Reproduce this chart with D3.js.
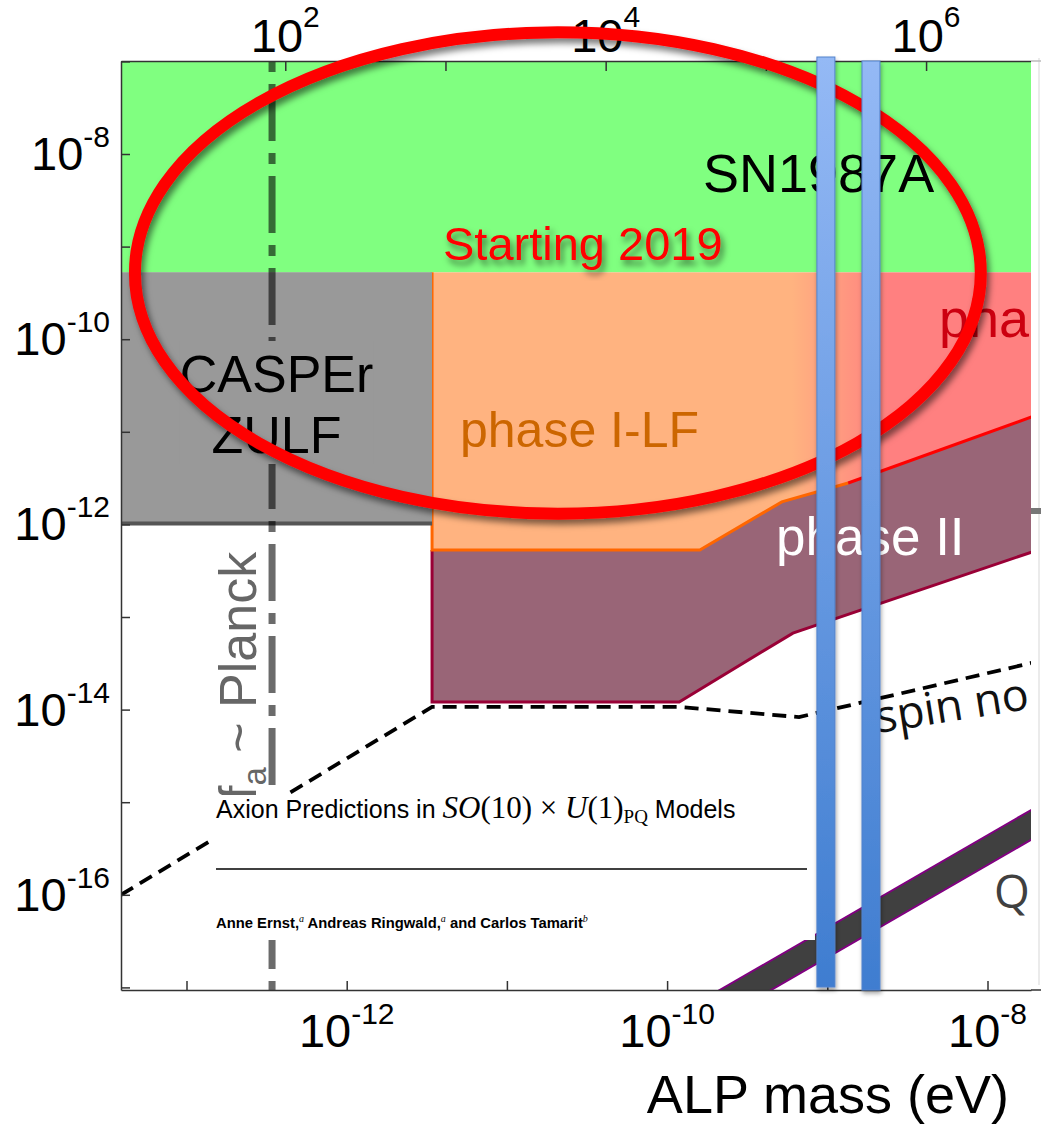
<!DOCTYPE html>
<html>
<head>
<meta charset="utf-8">
<script src="https://cdn.jsdelivr.net/npm/d3@7"></script>
<style>
  html, body { margin: 0; padding: 0; background: #fff; }
  svg { display: block; }
</style>
</head>
<body>
<svg id="chart" width="1041" height="1125"></svg>
<script>
// ---------- data ----------
// tick decades
const massTickExp = [-13, -12, -11, -10, -9, -8];
const massLabelExp = [-12, -10, -8];
const couplingTickExp = [-17, -16, -15, -14, -13, -12, -11, -10, -9, -8, -7];
const couplingLabelExp = [-16, -14, -12, -10, -8];
const freqTickExp = [2, 3, 4, 5, 6];
const freqLabelExp = [2, 4, 6];
const eVtoHz = 2.418e14;

// SN1987A exclusion (coupling above this value)
const sn1987aBound = 5.3e-10;

// CASPEr ZULF region
const zulfMassMax = 3.41e-12;
const zulfCouplingMin = 1e-12;

// phase I-LF / phase I sensitivity (lower edge)
const phaseIMass = [3.41e-12, 1.60e-10, 5.2e-10, 1.35e-9, 2.0e-8];
const phaseICoupling = [5.3e-13, 5.3e-13, 1.75e-12, 2.8e-12, 1.5e-11];

// phase II sensitivity (lower edge)
const phaseIIMass = [3.41e-12, 1.19e-10, 6.1e-10, 2.0e-8];
const phaseIICoupling = [1.21e-14, 1.21e-14, 6.7e-14, 5.2e-13];

// spin-noise limit
const spinNoiseMass = [3.9e-14, 3.41e-12, 1.19e-10, 6.66e-10, 2.0e-8];
const spinNoiseCoupling = [1.0e-16, 1.07e-14, 1.07e-14, 8.3e-15, 3.27e-14];

// QCD axion band
const qcdMass = [1e-10, 2e-8];
const qcdCouplingLow = [2.1e-18, 4.2e-16];
const qcdCouplingHigh = [4.4e-18, 8.8e-16];

// f_a ~ Planck mass
const planckMass = 3.42e-13;

// highlighted frequencies (Hz)
const markerFreqHz = [2.37e5, 4.53e5];

// highlighted region: centre (mass, coupling) and half-extent in decades
const highlightCenter = [2.08e-11, 5.2e-10];
const highlightHalfDecades = [2.64, 2.60];

// ---------- layout ----------
const L = 121, R = 1031, T = 61, B = 990;
const svg = d3.select("#chart");
const FONT = "'Liberation Sans', Arial, sans-serif";
const CAL = "'Open Sans', 'Noto Sans', sans-serif";
const MATH = "'Liberation Serif', 'Times New Roman', serif";

const x = d3.scaleLog().domain([1e-12, 1e-8]).range([346.7, 987.5]);
x.domain([x.invert(L), x.invert(R)]).range([L, R]);
const y = d3.scaleLog().domain([1e-8, 1e-16]).range([154, 894.8]);
y.domain([y.invert(T), y.invert(B)]).range([T, B]);
const xf = d3.scaleLog().domain(x.domain().map(m => m * eVtoHz)).range([L, R]);

const defs = svg.append("defs");
defs.append("clipPath").attr("id", "plotClip")
  .append("rect").attr("x", L).attr("y", T).attr("width", R - L).attr("height", B - T);

const sh = defs.append("filter").attr("id", "shadow")
  .attr("x", "-10%").attr("y", "-10%").attr("width", "130%").attr("height", "130%");
sh.append("feDropShadow").attr("dx", 3).attr("dy", 5).attr("stdDeviation", 3)
  .attr("flood-color", "#000").attr("flood-opacity", 0.5);

const shSmall = defs.append("filter").attr("id", "shadowSmall")
  .attr("x", "-50%").attr("y", "-5%").attr("width", "200%").attr("height", "110%");
shSmall.append("feDropShadow").attr("dx", 1).attr("dy", 3).attr("stdDeviation", 2)
  .attr("flood-color", "#000").attr("flood-opacity", 0.35);

// orange -> red blend between the LF and HF sensitivity bands
const bandGrad = defs.append("linearGradient").attr("id", "bandGrad")
  .attr("gradientUnits", "userSpaceOnUse")
  .attr("x1", x(6e-10)).attr("x2", x(2.4e-9)).attr("y1", 0).attr("y2", 0);
bandGrad.append("stop").attr("offset", 0).attr("stop-color", "#ffb380");
bandGrad.append("stop").attr("offset", 1).attr("stop-color", "#ff8080");

const barGrad = defs.append("linearGradient").attr("id", "barGrad")
  .attr("x1", 0).attr("x2", 0).attr("y1", 0).attr("y2", 1);
barGrad.append("stop").attr("offset", 0).attr("stop-color", "#94b9f5");
barGrad.append("stop").attr("offset", 1).attr("stop-color", "#3f7dd0");

const plot = svg.append("g").attr("clip-path", "url(#plotClip)");
const line = d3.line();
const pts = (ms, gs) => ms.map((m, i) => [x(m), y(gs[i])]);
const xMax = phaseIMass[phaseIMass.length - 1];

// phase II band
const phaseITop = pts(phaseIMass, phaseICoupling);
const phaseIIBottom = pts(phaseIIMass, phaseIICoupling);
plot.append("path")
  .attr("d", line(phaseITop.concat(phaseIIBottom.slice().reverse())) + "Z")
  .attr("fill", "#996577");
plot.append("path")
  .attr("d", line([[x(phaseIIMass[0]), y(phaseICoupling[0])]].concat(phaseIIBottom)))
  .attr("fill", "none").attr("stroke", "#990036").attr("stroke-width", 3);

// phase I-LF / phase I band
const bandPoly = [[x(zulfMassMax), y(sn1987aBound)], [x(xMax), y(sn1987aBound)]]
  .concat(phaseITop.slice().reverse());
plot.append("path").attr("d", line(bandPoly) + "Z").attr("fill", "url(#bandGrad)");
plot.append("path")
  .attr("d", line([[x(zulfMassMax), y(sn1987aBound)]].concat(phaseITop.slice(0, 4))))
  .attr("fill", "none").attr("stroke", "#ff6600").attr("stroke-width", 3);
plot.append("path")
  .attr("d", line(phaseITop.slice(3)))
  .attr("fill", "none").attr("stroke", "#ff0000").attr("stroke-width", 3);

// CASPEr ZULF region
plot.append("rect")
  .attr("x", L).attr("y", y(sn1987aBound))
  .attr("width", x(zulfMassMax) - L).attr("height", y(zulfCouplingMin) - y(sn1987aBound))
  .attr("fill", "#999999");
plot.append("line")
  .attr("x1", L).attr("x2", x(zulfMassMax))
  .attr("y1", y(zulfCouplingMin) - 1).attr("y2", y(zulfCouplingMin) - 1)
  .attr("stroke", "#555").attr("stroke-width", 4);

// SN1987A region
plot.append("rect")
  .attr("x", L).attr("y", T).attr("width", R - L).attr("height", y(sn1987aBound) - T)
  .attr("fill", "#80ff80");

// f_a ~ Planck
plot.append("line")
  .attr("x1", x(planckMass)).attr("x2", x(planckMass)).attr("y1", T).attr("y2", B)
  .attr("stroke", "#000").attr("stroke-opacity", 0.58).attr("stroke-width", 7)
  .attr("stroke-dasharray", "57 12 11 12").attr("stroke-dashoffset", 69);

// spin noise
plot.append("path")
  .attr("d", line(pts(spinNoiseMass, spinNoiseCoupling)))
  .attr("fill", "none").attr("stroke", "#000").attr("stroke-width", 3.8)
  .attr("stroke-dasharray", "14 8");

// QCD axion band
const qLow = pts(qcdMass, qcdCouplingLow), qHigh = pts(qcdMass, qcdCouplingHigh);
plot.append("path").attr("d", line(qHigh.concat(qLow.slice().reverse())) + "Z")
  .attr("fill", "#404040");
[qLow, qHigh].forEach(p => plot.append("path").attr("d", line(p))
  .attr("fill", "none").attr("stroke", "#800080").attr("stroke-width", 2));

// region labels
plot.append("text").attr("x", 703).attr("y", 192).attr("font-family", FONT)
  .attr("font-size", 54).attr("fill", "#000").text("SN1987A");

const zulfCx = (L + x(zulfMassMax)) / 2;
const zulfLabel = plot.append("g");
const zulfText = zulfLabel.append("text").attr("font-family", FONT).attr("font-size", 52)
  .attr("fill", "#000").attr("text-anchor", "middle");
zulfText.append("tspan").attr("x", zulfCx).attr("y", 392).text("CASPEr");
zulfText.append("tspan").attr("x", zulfCx).attr("y", 453).text("ZULF");
const zb = zulfText.node().getBBox();
zulfLabel.insert("rect", "text").attr("x", zb.x).attr("y", zb.y - 4)
  .attr("width", zb.width).attr("height", zb.height + 4).attr("fill", "#999999");

plot.append("text").attr("x", 460).attr("y", 447).attr("font-family", FONT)
  .attr("font-size", 50).attr("fill", "#cc6600").text("phase I-LF");
plot.append("text").attr("x", 939).attr("y", 337).attr("font-family", FONT)
  .attr("font-size", 54).attr("fill", "#cc0010").text("pha");
plot.append("text").attr("x", 776).attr("y", 555).attr("font-family", FONT)
  .attr("font-size", 53).attr("fill", "#fff").text("phase II");
plot.append("text").attr("transform", "translate(878,733) rotate(-9)")
  .attr("font-family", CAL).attr("font-size", 45).attr("fill", "#111").text("spin no");
plot.append("text").attr("x", 994).attr("y", 908).attr("font-family", CAL)
  .attr("font-size", 46).attr("fill", "#404040").text("Q");
const planckText = plot.append("text").attr("transform", "translate(256,800) rotate(-90)")
  .attr("font-family", FONT).attr("font-size", 52).attr("fill", "#666");
planckText.append("tspan").text("f");
planckText.append("tspan").attr("font-size", 33).attr("dy", 10).text("a");
planckText.append("tspan").attr("dy", -10).text(" ~ Planck");

// ---------- axes ----------
const axisStyle = g => {
  g.select(".domain").attr("stroke", "#333").attr("stroke-width", 1.5);
  g.selectAll(".tick line").attr("stroke", "#333").attr("stroke-width", 1.5);
  g.selectAll(".tick text").remove();
};
svg.append("g").attr("transform", `translate(0,${B})`)
  .call(d3.axisBottom(x).tickValues(massTickExp.map(e => 10 ** e)).tickSize(-9).tickSizeOuter(0))
  .call(axisStyle);
svg.append("g").attr("transform", `translate(${L},0)`)
  .call(d3.axisLeft(y).tickValues(couplingTickExp.map(e => 10 ** e)).tickSize(-9).tickSizeOuter(0))
  .call(axisStyle);
svg.append("g").attr("transform", `translate(0,${T})`)
  .call(d3.axisTop(xf).tickValues(freqTickExp.map(e => 10 ** e)).tickSize(-10).tickSizeOuter(0))
  .call(axisStyle);
// bottom frame line continues past the right edge
svg.append("line").attr("x1", R).attr("x2", 1041).attr("y1", B).attr("y2", B)
  .attr("stroke", "#333").attr("stroke-width", 1.5);

function powLabel(px, py, exp, anchor, raise) {
  const t = svg.append("text").attr("x", px).attr("y", py).attr("font-family", FONT)
    .attr("font-size", 47).attr("fill", "#000").attr("text-anchor", anchor);
  t.append("tspan").text("10");
  t.append("tspan").attr("font-size", 30).attr("dy", -raise).text(String(exp));
}
couplingLabelExp.forEach(e => powLabel(110, y(10 ** e) + 16, e, "end", 23));
massLabelExp.forEach(e => powLabel(x(10 ** e), 1047, e, "middle", 23));
freqLabelExp.forEach(e => powLabel(xf(10 ** e), 52, e, "middle", 25));

svg.append("text").attr("x", 1009).attr("y", 1113).attr("text-anchor", "end")
  .attr("font-family", FONT).attr("font-size", 54).attr("fill", "#000").text("ALP mass (eV)");

// right margin strip
svg.append("rect").attr("x", R).attr("y", 0).attr("width", 1041 - R).attr("height", B - 1)
  .attr("fill", "#fff");
svg.append("line").attr("x1", 1039).attr("x2", 1039).attr("y1", 58).attr("y2", 985)
  .attr("stroke", "#e4e4e4").attr("stroke-width", 1.5);
svg.append("line").attr("x1", R).attr("x2", 1041).attr("y1", T).attr("y2", T)
  .attr("stroke", "#bbb").attr("stroke-width", 1.5);
svg.append("rect").attr("x", R).attr("y", 508).attr("width", 1041 - R).attr("height", 6)
  .attr("fill", "#777");

// ---------- paper title card ----------
const card = svg.append("g");
card.append("rect").attr("x", 210).attr("y", 795).attr("width", 605).attr("height", 145)
  .attr("fill", "#fff");
const title = card.append("text").attr("x", 216).attr("y", 818)
  .attr("font-family", FONT).attr("font-size", 25).attr("fill", "#000");
title.append("tspan").text("Axion Predictions in ");
title.append("tspan").attr("font-family", MATH).attr("font-size", 31).attr("font-style", "italic").text("SO");
title.append("tspan").attr("font-family", MATH).attr("font-size", 31).text("(10) × ");
title.append("tspan").attr("font-family", MATH).attr("font-size", 31).attr("font-style", "italic").text("U");
title.append("tspan").attr("font-family", MATH).attr("font-size", 31).text("(1)");
title.append("tspan").attr("font-family", MATH).attr("font-size", 19).attr("dy", 5).text("PQ");
title.append("tspan").attr("dy", -5).text(" Models");
card.append("line").attr("x1", 216).attr("x2", 807).attr("y1", 869).attr("y2", 869)
  .attr("stroke", "#000").attr("stroke-width", 1.5);
const authors = card.append("text").attr("x", 216).attr("y", 928)
  .attr("font-family", FONT).attr("font-size", 14.8).attr("font-weight", "bold").attr("fill", "#000");
const sup = (t, s) => t.append("tspan").attr("font-family", MATH).attr("font-style", "italic")
  .attr("font-weight", "normal").attr("font-size", 10).attr("dy", -6).text(s);
authors.append("tspan").text("Anne Ernst,");
sup(authors, "a");
authors.append("tspan").attr("dy", 6).text(" Andreas Ringwald,");
sup(authors, "a");
authors.append("tspan").attr("dy", 6).text(" and Carlos Tamarit");
sup(authors, "b");

// ---------- highlight ----------
const cx = x(highlightCenter[0]), cy = y(highlightCenter[1]);
const rx = x(highlightCenter[0] * 10 ** highlightHalfDecades[0]) - cx;
const ry = y(highlightCenter[1] / 10 ** highlightHalfDecades[1]) - cy;
svg.append("ellipse").attr("cx", cx).attr("cy", cy).attr("rx", rx).attr("ry", ry)
  .attr("fill", "none").attr("stroke", "#ff0000").attr("stroke-width", 12)
  .attr("filter", "url(#shadow)");
svg.append("text").attr("x", 443).attr("y", 260).attr("font-family", FONT)
  .attr("font-size", 47).attr("fill", "#ff0000").attr("filter", "url(#shadow)")
  .text("Starting 2019");

// frequency markers
const barW = 18;
svg.selectAll(".marker").data(markerFreqHz).join("rect").attr("class", "marker")
  .attr("x", d => xf(d) - barW / 2).attr("width", barW)
  .attr("y", (d, i) => T - 4 + i * 4).attr("height", (d, i) => B - T + 1 - i)
  .attr("fill", "url(#barGrad)").attr("stroke", "#5283cc").attr("stroke-width", 1)
  .attr("filter", "url(#shadowSmall)");
</script>
</body>
</html>
